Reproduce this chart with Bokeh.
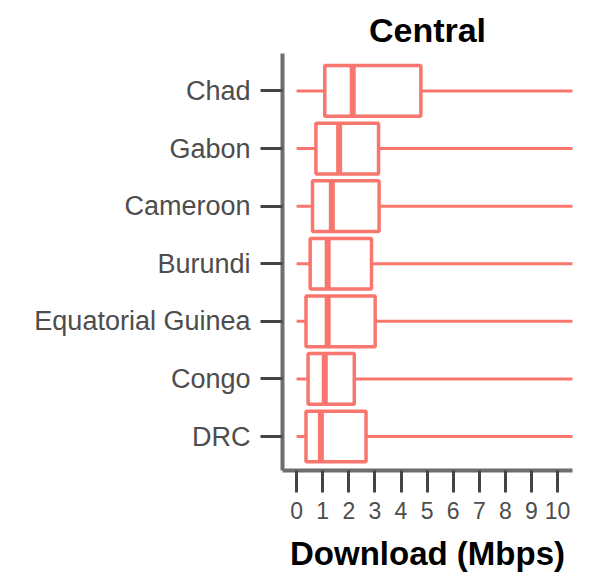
from bokeh.plotting import figure
from bokeh.models import Range1d, FixedTicker, ColumnDataSource
from bokeh.embed import file_html
from bokeh.resources import INLINE

countries = ["DRC", "Congo", "Equatorial Guinea", "Burundi", "Cameroon", "Gabon", "Chad"]
lower = [0.0, 0.0, 0.0, 0.0, 0.0, 0.0, 0.0]
q1 = [0.36, 0.44, 0.36, 0.52, 0.61, 0.74, 1.08]
median = [0.93, 1.08, 1.19, 1.19, 1.35, 1.63, 2.15]
q3 = [2.66, 2.21, 3.01, 2.87, 3.16, 3.14, 4.76]
upper = [12.0, 12.0, 12.0, 12.0, 12.0, 12.0, 12.0]
x_ticks = [0, 1, 2, 3, 4, 5, 6, 7, 8, 9, 10]

ypos = list(range(len(countries)))
box_h = 0.88
RED = "#F8766D"

src = ColumnDataSource(dict(
    y=ypos, lower=lower, q1=q1, median=median, q3=q3, upper=upper,
    ylo=[v - box_h / 2 for v in ypos], yhi=[v + box_h / 2 for v in ypos],
))

p = figure(width=585, height=575, output_backend="svg", toolbar_location=None,
           x_range=Range1d(-0.54, 10.57), y_range=Range1d(-0.59, 6.65),
           title="Central", min_border_left=282, min_border_right=13,
           min_border_top=53, min_border_bottom=105)

p.segment(x0="lower", x1="q1", y0="y", y1="y", source=src, line_color=RED, line_width=3)
p.segment(x0="q3", x1="upper", y0="y", y1="y", source=src, line_color=RED, line_width=3)
p.hbar(y="y", left="q1", right="q3", height=box_h, source=src,
       fill_color="white", line_color=RED, line_width=3.5)
p.segment(x0="median", x1="median", y0="ylo", y1="yhi", source=src, line_color=RED, line_width=6)

p.title.text_font = "Liberation Sans"
p.title.text_font_size = "34px"
p.title.text_font_style = "bold"
p.title.align = "center"
p.title.text_color = "black"
p.title.standoff = 10

p.xgrid.visible = False
p.ygrid.visible = False
p.outline_line_color = None

p.yaxis.ticker = FixedTicker(ticks=ypos)
p.yaxis.major_label_overrides = {i: c for i, c in enumerate(countries)}
p.xaxis.ticker = FixedTicker(ticks=x_ticks)
p.xaxis.axis_label = "Download (Mbps)"

for ax in (p.xaxis, p.yaxis):
    ax.axis_line_color = "#6e6e6e"
    ax.axis_line_width = 4
    ax.major_tick_line_color = "#444444"
    ax.major_tick_line_width = 3
    ax.major_tick_out = 22
    ax.major_tick_in = 0
    ax.minor_tick_line_color = None
    ax.major_label_text_font = "Liberation Sans"
    ax.major_label_text_color = "#4d4d4d"

p.yaxis.major_label_text_font_size = "27px"
p.yaxis.major_label_standoff = 10
p.xaxis.major_label_text_font_size = "23px"
p.xaxis.major_label_standoff = 9
p.xaxis.axis_label_text_font = "Liberation Sans"
p.xaxis.axis_label_text_font_size = "33px"
p.xaxis.axis_label_text_font_style = "bold"
p.xaxis.axis_label_text_color = "black"
p.xaxis.axis_label_standoff = 13

open("out.html", "w").write(file_html(p, INLINE))
